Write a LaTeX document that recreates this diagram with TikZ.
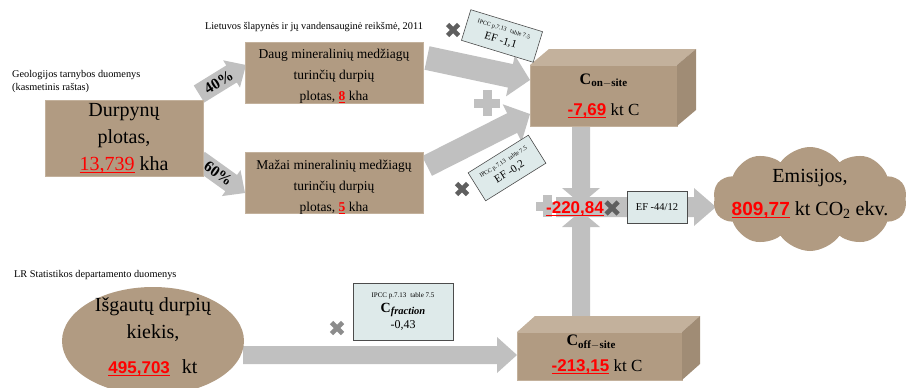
\documentclass[tikz,border=0pt]{standalone}
\usepackage{fontspec}
\setmainfont{Liberation Serif}
\newfontfamily\numfont{Liberation Sans}
\usetikzlibrary{calc,shapes.geometric,shapes.symbols}

\definecolor{peat}{RGB}{177,155,130}
\definecolor{peattop}{RGB}{195,177,156}
\definecolor{peatside}{RGB}{160,140,117}
\definecolor{flowgray}{RGB}{192,192,192}
\definecolor{notefill}{RGB}{222,234,234}
\definecolor{crossdark}{RGB}{95,95,95}
\definecolor{crosslight}{RGB}{140,140,140}

% red value with a heavy underline
\newcommand\redul[1]{{\color{red}\setbox0=\hbox{#1}\rlap{\rule[-2.8pt]{\wd0}{1.3pt}}\box0}}
\newcommand\fsz[2]{\fontsize{#1}{#2}\selectfont}

% wide grey block arrow: tail, tip, bar half-width, head half-width, head length
\newcommand\fatarrow[5]{%
  \coordinate (fa-h) at ($(#2)!#5!(#1)$);
  \fill[flowgray] ($(#1)!#3!90:(#2)$) -- ($(fa-h)!#3!90:(#2)$) -- ($(fa-h)!#4!90:(#2)$)
    -- (#2) -- ($(fa-h)!#4!-90:(#2)$) -- ($(fa-h)!#3!-90:(#2)$) -- ($(#1)!#3!-90:(#2)$) -- cycle;}
% multiplication and addition signs
\newcommand\timesmark[3][crossdark]{%
  \draw[draw=#1, line width=4.6pt] ($(#2)+(-#3,-#3)$) -- ($(#2)+(#3,#3)$)
    ($(#2)+(-#3,#3)$) -- ($(#2)+(#3,-#3)$);}
\newcommand\plusmark[3]{%
  \draw[draw=flowgray, line width=9pt] ($(#2)+(-#3,0)$) -- ($(#2)+(#3,0)$)
    ($(#2)+(0,-#3)$) -- ($(#2)+(0,#3)$);}

\begin{document}
\begin{tikzpicture}[x=1pt,y=-1pt,
  peatbox/.style={fill=peat, draw=peattop, line width=0.8pt, inner sep=0pt, outer sep=0pt, align=center},
  note/.style={fill=notefill, draw=black!70, line width=0.6pt, inner sep=0pt, outer sep=0pt, align=center},
  source/.style={font=\fsz{10.3}{13}, align=left, inner sep=0pt},
  boxtext/.style={font=\fsz{13.5}{21}, align=center, inner sep=0pt},
  pct/.style={font=\fsz{15.5}{15.5}\bfseries, inner sep=0pt}]
\useasboundingbox (0,0) rectangle (906,388);

% ---- arrow end points
\coordinate (t40) at (199,94);   \coordinate (h40) at (246,65);
\coordinate (t60) at (199,160);  \coordinate (h60) at (245,193);
\coordinate (tup) at (427,58);   \coordinate (hup) at (530,80);
\coordinate (tlo) at (427,166);  \coordinate (hlo) at (530,114);
\coordinate (tdn) at (581,126);  \coordinate (hdn) at (581,204);
\coordinate (tfr) at (581,332);  \coordinate (hfr) at (581,211);
\coordinate (tco) at (556,207);  \coordinate (hco) at (716,207);
\coordinate (tex) at (243,355);  \coordinate (hex) at (517,355);

% ---- grey flow arrows
\fatarrow{t40}{h40}{10pt}{16pt}{17pt}
\fatarrow{t60}{h60}{10pt}{16pt}{17pt}
\fatarrow{tup}{hup}{12pt}{21pt}{20pt}
\fatarrow{tlo}{hlo}{11pt}{21pt}{20pt}
\fatarrow{tdn}{hdn}{9pt}{19pt}{16pt}
\fatarrow{tfr}{hfr}{9pt}{19pt}{16pt}
\fatarrow{tco}{hco}{10pt}{19pt}{22pt}
\fatarrow{tex}{hex}{9pt}{18pt}{20pt}

\path (t40) -- (h40) node[pct, pos=0.42, sloped] {40\%};
\path (t60) -- (h60) node[pct, pos=0.42, sloped] {60\%};

% ---- signs
\coordinate (plusA) at (487,103);
\coordinate (plusB) at (547,206);
\plusmark{}{plusA}{13}
\plusmark{}{plusB}{11}
\coordinate (xA) at (453,30);
\coordinate (xB) at (462,189);
\coordinate (xC) at (612,208);
\coordinate (xD) at (337,328);
\timesmark{xA}{5.5}
\timesmark{xB}{5.5}
\timesmark{xC}{6}
\timesmark[crosslight]{xD}{5.5}

% ---- sources
\node[source, anchor=north west] (src1) at (12,70) {Geologijos tarnybos duomenys\\(kasmetinis raštas)};
\node[source, anchor=center] (src2) at (314,27) {Lietuvos šlapynės ir jų vandensauginė reikšmė, 2011};
\node[source, anchor=west] (src3) at (14,275) {LR Statistikos departamento duomenys};

% ---- peat areas
\node[peatbox, minimum width=158pt, minimum height=76pt, font=\fsz{20}{27}] (area) at (124,138)
  {Durpynų\\plotas,\\\redul{13,739} kha};
\node[peatbox, minimum width=178pt, minimum height=61pt] (rich) at (334,72.5) {};
\node[boxtext] (richtxt) at (334,76)
  {Daug mineralinių medžiagų\\turinčių durpių\\plotas, \redul{\bfseries 8} kha};
\node[peatbox, minimum width=178pt, minimum height=61pt] (poor) at (334,182.5) {};
\node[boxtext] (poortxt) at (334,187)
  {Mažai mineralinių medžiagų\\turinčių durpių\\plotas, \redul{\bfseries 5} kha};

% ---- on-site block
\node[peatbox, minimum width=147pt, minimum height=61pt] (onsite) at (603.5,95.5) {};
\fill[peattop] (onsite.north west) -- ++(19,-16) -- ++(147,0) -- (onsite.north east) -- cycle;
\fill[peatside] (onsite.north east) -- ++(19,-16) -- ++(0,61) -- (onsite.south east) -- cycle;
\node[inner sep=0pt] (onsitelbl) at ($(onsite.center)+(0,-15)$)
  {\fsz{16}{16}\bfseries C\raisebox{-2.5pt}{\fsz{11}{11}\bfseries on$-$site}};
\node[inner sep=0pt, font=\fsz{17}{17}] (onsiteval) at ($(onsite.center)+(0,15)$)
  {\redul{\numfont\bfseries -7,69} kt C};

% ---- off-site block
\node[peatbox, minimum width=165pt, minimum height=48pt] (offsite) at (599.5,356) {};
\fill[peattop] (offsite.north west) -- ++(18,-16) -- ++(165,0) -- (offsite.north east) -- cycle;
\fill[peatside] (offsite.north east) -- ++(18,-16) -- ++(0,48) -- (offsite.south east) -- cycle;
\node[inner sep=0pt] (offsitelbl) at (591,342)
  {\fsz{16}{16}\bfseries C\raisebox{-2.5pt}{\fsz{11}{11}\bfseries off$-$site}};
\node[inner sep=0pt, font=\fsz{17}{17}] (offsiteval) at (597,367)
  {\redul{\numfont\bfseries -213,15} kt C};

% ---- extracted peat
\node[ellipse, fill=peat, inner sep=0pt, minimum width=182pt, minimum height=108pt] (extract) at (153,341) {};
\node[inner sep=0pt, font=\fsz{20}{27}, align=center] (extracttxt) at (153,320)
  {Išgautų durpių\\kiekis,};
\node[inner sep=0pt, font=\fsz{20}{20}] (extractval) at (153,368)
  {\redul{\numfont\bfseries\fsz{17}{17}495,703}\hspace{12pt}kt};

% ---- emission factors
\node[note, minimum width=75pt, minimum height=32pt, rotate=-17] (efA) at (502,36)
  {{\fsz{6}{7}IPCC p.7.13\hspace{4pt}table 7.5}\\[1pt]{\fsz{11}{11}EF -1,1}};
\node[note, minimum width=71pt, minimum height=33pt, rotate=32] (efB) at (507,168)
  {{\fsz{6}{7}IPCC p.7.13\hspace{4pt}table 7.5}\\[1pt]{\fsz{11}{11}EF -0,2}};
\node[note, minimum width=60pt, minimum height=32pt, font=\fsz{10.5}{11}] (efC) at (657,207) {EF -44/12};
\node[note, minimum width=100pt, minimum height=57pt] (cfrac) at (403,311.5)
  {{\fsz{7}{8}IPCC p.7.13\hspace{4pt}table 7.5}\\[3pt]
   {\fsz{14}{14}\bfseries C\raisebox{-2pt}{\fsz{10.5}{10.5}\bfseries\itshape fraction}}\\[3pt]
   {\fsz{12}{12}-0,43}};

% ---- total carbon
\node[inner sep=0pt] (total) at (575,209) {\redul{\numfont\bfseries\fsz{17}{17}-220,84}};

% ---- emissions
\node[cloud, cloud puffs=10, cloud puff arc=110, aspect=1.9, fill=peat, inner sep=0pt,
      minimum width=194pt, minimum height=104pt] (emis) at (810,199) {};
\node[inner sep=0pt, font=\fsz{20}{33}, align=center] (emistxt) at (810,194)
  {Emisijos,\\\redul{\numfont\bfseries\fsz{19}{19}809,77} kt CO\textsubscript{2} ekv.};
\end{tikzpicture}
\end{document}
